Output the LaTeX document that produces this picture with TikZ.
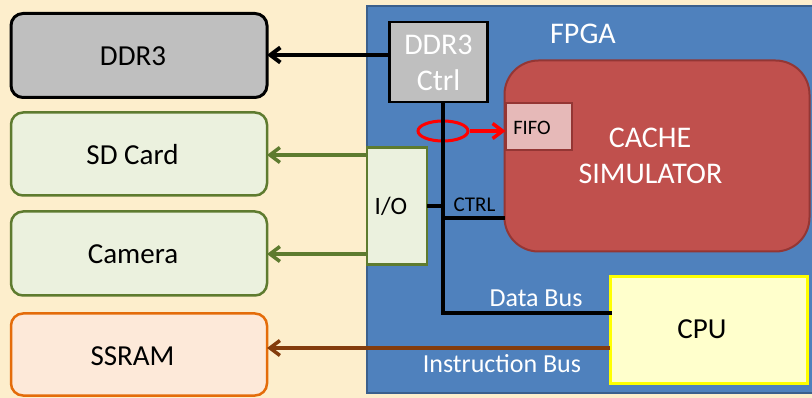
\documentclass[tikz,border=0pt]{standalone}
\usepackage{fontspec}
\setmainfont{Carlito}
\usetikzlibrary{arrows.meta,shapes.geometric}

\definecolor{cream}{HTML}{FDEECC}
\definecolor{fpgablue}{HTML}{4F81BD}
\definecolor{fpgaedge}{HTML}{3B5F8C}
\definecolor{memgray}{HTML}{BFBFBF}
\definecolor{iofill}{HTML}{EBF1DE}
\definecolor{ioedge}{HTML}{5E7B2F}
\definecolor{ramfill}{HTML}{FDE9D9}
\definecolor{ramedge}{HTML}{E46C0A}
\definecolor{instr}{HTML}{843C0C}
\definecolor{cachefill}{HTML}{C0504D}
\definecolor{cacheedge}{HTML}{943634}
\definecolor{fifofill}{HTML}{E6B9B8}
\definecolor{cpufill}{HTML}{FFFFCC}
\definecolor{cpuedge}{HTML}{FFFF00}

\tikzset{
  box/.style={rectangle, inner sep=0pt, outer sep=0pt},
  devbox/.style={box, rounded corners=12pt, minimum width=256pt},
  lbl/.style={inner sep=0pt, anchor=base},
  big/.style={font=\fontsize{29}{35}\selectfont},
  mid/.style={font=\fontsize{26}{31}\selectfont},
  small/.style={font=\fontsize{21}{25}\selectfont},
  barb/.style={-{Straight Barb[length=10pt,width=15pt]}},
  wire/.style={line width=3.5pt},
}

\begin{document}
\begin{tikzpicture}[x=1pt,y=-1pt]
  % page and background
  \fill[cream] (0,0) rectangle (812,398);
  \useasboundingbox (0,0) rectangle (812,398);

  % FPGA area
  \begin{scope}
    \clip (0,0) rectangle (812,398);
    \node[box, fill=fpgablue, draw=fpgaedge, line width=2pt,
          minimum width=452pt, minimum height=387pt, anchor=north west]
          (fpga) at (367,6) {};
  \end{scope}
  \node[lbl, white, font=\fontsize{30}{36}\selectfont] (fpgalbl) at (583,44) {FPGA};

  % external devices
  \node[devbox, fill=memgray, draw=black, line width=3pt, minimum height=84pt]
        (ddr) at (139,55.5) {};
  \node[devbox, fill=iofill, draw=ioedge, line width=2.5pt, minimum height=83pt]
        (sd) at (139,154) {};
  \node[devbox, fill=iofill, draw=ioedge, line width=2.5pt, minimum height=84pt]
        (cam) at (139,253.5) {};
  \node[devbox, fill=ramfill, draw=ramedge, line width=2.5pt, minimum height=82pt]
        (ram) at (139,354.5) {};
  \node[lbl, big] (ddrlbl) at (133,66) {DDR3};
  \node[lbl, big] (sdlbl) at (132.5,165) {SD Card};
  \node[lbl, big] (camlbl) at (133,264) {Camera};
  \node[lbl, big] (ramlbl) at (132.5,366) {SSRAM};

  % cache simulator with its FIFO
  \node[box, fill=cachefill, draw=cacheedge, line width=2pt, rounded corners=34pt,
        minimum width=305pt, minimum height=191pt] (cache) at (657,156) {};
  \node[lbl, white, font=\fontsize{30}{36}\selectfont] (cachelbl1) at (650,148) {CACHE};
  \node[lbl, white, font=\fontsize{30}{36}\selectfont] (cachelbl2) at (650.5,184) {SIMULATOR};
  \node[box, fill=fifofill, draw=cacheedge, line width=2pt,
        minimum width=66pt, minimum height=47pt] (fifo) at (538.5,127) {};
  \node[lbl, font=\fontsize{20.5}{25}\selectfont] (fifolbl) at (532,135) {FIFO};

  % DDR3 controller
  \node[box, fill=memgray, draw=black, line width=2.5pt,
        minimum width=98pt, minimum height=80pt] (ctrl) at (438.5,62) {};
  \node[lbl, white, font=\fontsize{30}{36}\selectfont] (ctrllbl1) at (438.5,55) {DDR3};
  \node[lbl, white, font=\fontsize{30}{36}\selectfont] (ctrllbl2) at (438.5,91) {Ctrl};

  % I/O block
  \node[box, fill=iofill, draw=ioedge, line width=2.5pt,
        minimum width=60pt, minimum height=117pt] (io) at (397,206) {};
  \node[lbl, font=\fontsize{25}{30}\selectfont] (iolbl) at (391,215) {I/O};

  % CPU
  \node[box, fill=cpufill, draw=cpuedge, line width=3pt,
        minimum width=197pt, minimum height=106pt] (cpu) at (708.5,330) {};
  \node[lbl, big] (cpulbl) at (702,339) {CPU};

  % snooping ring on the bus and its arrow into the FIFO
  \node[ellipse, draw=red, line width=3pt, minimum width=50pt, minimum height=20pt,
        inner sep=0pt] (ring) at (443,131) {};
  \draw[red, wire, barb] (ring.east) -- (ring.east -| fifo.west);

  % shared bus
  \coordinate (bustop) at (443,103);
  \coordinate (busbot) at (443,313);
  \coordinate (iotap) at (443,206);
  \coordinate (ctrltap) at (443,218);
  \draw[wire, line cap=rect] (bustop) -- (busbot) -- (busbot -| cpu.west);
  \draw[wire] (io.east |- iotap) -- (iotap);
  \draw[wire] (ctrltap) -- (ctrltap -| cache.west);
  \node[lbl, small] (ctrltxt) at (474.5,212) {CTRL};
  \node[lbl, white, mid] (datalbl) at (536,307) {Data Bus};

  % links to the external devices
  \draw[wire, line width=4pt, barb] (ctrl.west |- 0,55) -- (ddr.east |- 0,55);
  \draw[ioedge, wire, barb] (io.west |- 0,155) -- (sd.east |- 0,155);
  \draw[ioedge, wire, barb] (io.west |- 0,254) -- (cam.east |- 0,254);
  \draw[instr, wire, barb] (cpu.west |- 0,348) -- (ram.east |- 0,348);
  \node[lbl, white, mid] (instrlbl) at (502,372) {Instruction Bus};
\end{tikzpicture}
\end{document}
